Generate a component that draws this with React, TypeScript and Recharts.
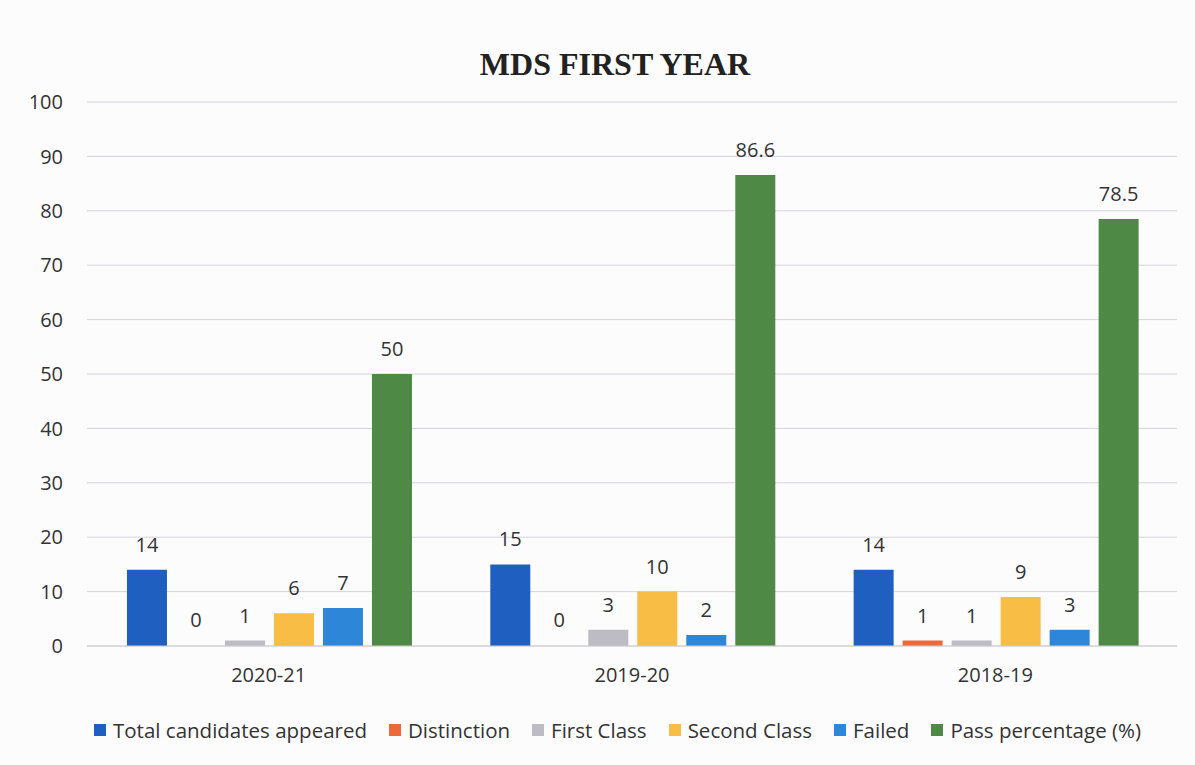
import React from "react";
import { BarChart, Bar, XAxis, YAxis, CartesianGrid, Legend, LabelList, Rectangle } from "recharts";

const categories = ["2020-21", "2019-20", "2018-19"];
const totalAppeared = [14, 15, 14];
const distinction = [0, 0, 1];
const firstClass = [1, 3, 1];
const secondClass = [6, 10, 9];
const failed = [7, 2, 3];
const passPercentage = [50, 86.6, 78.5];
const yTicks = [0, 10, 20, 30, 40, 50, 60, 70, 80, 90, 100];

const data = categories.map((c, i) => ({
  name: c,
  total: totalAppeared[i],
  distinction: distinction[i],
  first: firstClass[i],
  second: secondClass[i],
  failed: failed[i],
  pass: passPercentage[i],
}));

const series = [
  { key: "total", name: "Total candidates appeared", color: "#1f5fbf" },
  { key: "distinction", name: "Distinction", color: "#ec6a3a" },
  { key: "first", name: "First Class", color: "#bdbcc4" },
  { key: "second", name: "Second Class", color: "#f8bd45" },
  { key: "failed", name: "Failed", color: "#2e86d8" },
  { key: "pass", name: "Pass percentage (%)", color: "#4e8a45" },
];

const font = "'Open Sans', sans-serif";

const BarShape = (props: any) => {
  const v = props.value;
  const val = Array.isArray(v) ? v[1] - v[0] : v;
  if (!val) return <g />;
  return <Rectangle {...props} />;
};

const LegendContent = () => (
  <div
    style={{
      display: "flex",
      justifyContent: "center",
      alignItems: "center",
      height: 30,
      fontFamily: font,
      fontSize: 20.5,
      color: "#333",
      paddingLeft: 46,
    }}
  >
    {series.map((s, i) => (
      <div key={s.key} style={{ display: "flex", alignItems: "center", marginLeft: i === 0 ? 0 : 22 }}>
        <span style={{ display: "inline-block", width: 12, height: 12, background: s.color, marginRight: 7 }} />
        <span>{s.name}</span>
      </div>
    ))}
  </div>
);

export default function App() {
  return (
    <div style={{ position: "absolute", left: 0, top: 0, width: 1195, height: 765, background: "#fdfcfd" }}>
      <div
        style={{
          position: "absolute",
          left: 0,
          width: 1230,
          top: 46,
          textAlign: "center",
          fontFamily: "'Liberation Serif', 'Times New Roman', serif",
          fontWeight: "bold",
          fontSize: 32,
          color: "#222",
          zIndex: 2,
        }}
      >
        MDS FIRST YEAR
      </div>
      <BarChart
        width={1195}
        height={765}
        data={data}
        margin={{ top: 102, right: 18, left: 12, bottom: 20 }}
        barCategoryGap="11%"
        barGap={9}
      >
        <CartesianGrid vertical={false} stroke="#d6d3da" />
        <XAxis
          dataKey="name"
          tickLine={false}
          axisLine={{ stroke: "#cfcdd3" }}
          tick={{ fontSize: 20, fill: "#333", fontFamily: font }}
          tickMargin={16}
          height={69}
        />
        <YAxis
          domain={[0, 100]}
          ticks={yTicks}
          tickLine={false}
          axisLine={false}
          tick={{ fontSize: 20, fill: "#333", fontFamily: font }}
          width={75}
          tickMargin={18}
          interval={0}
        />
        <Legend verticalAlign="bottom" content={<LegendContent />} />
        {series.map((s) => (
          <Bar
            key={s.key}
            dataKey={s.key}
            name={s.name}
            fill={s.color}
            isAnimationActive={false}
            minPointSize={1}
            shape={BarShape}
          >
            <LabelList
              dataKey={s.key}
              position="top"
              offset={18}
              style={{ fontSize: 20, fill: "#333", fontFamily: font }}
            />
          </Bar>
        ))}
      </BarChart>
    </div>
  );
}
